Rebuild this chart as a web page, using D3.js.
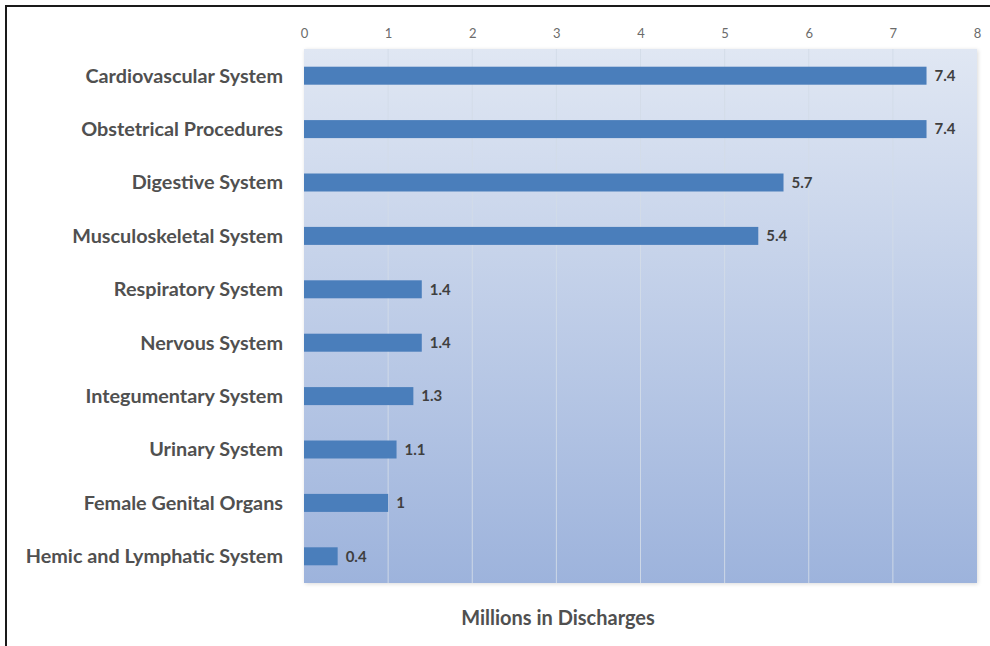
<!DOCTYPE html>
<html>
<head>
<meta charset="utf-8">
<script src="https://cdn.jsdelivr.net/npm/d3@7"></script>
<style>
  html, body { margin: 0; padding: 0; background: #ffffff; }
  svg { display: block; }
</style>
</head>
<body>
<svg id="chart" width="990" height="646"></svg>
<script>
const categories = [
  "Cardiovascular System",
  "Obstetrical Procedures",
  "Digestive System",
  "Musculoskeletal System",
  "Respiratory System",
  "Nervous System",
  "Integumentary System",
  "Urinary System",
  "Female Genital Organs",
  "Hemic and Lymphatic System"
];
const values = [7.4, 7.4, 5.7, 5.4, 1.4, 1.4, 1.3, 1.1, 1, 0.4];
const valueLabels = ["7.4", "7.4", "5.7", "5.4", "1.4", "1.4", "1.3", "1.1", "1", "0.4"];
const tickValues = [0, 1, 2, 3, 4, 5, 6, 7, 8];
const axisTitle = "Millions in Discharges";

const svg = d3.select("#chart");
const plot = { left: 304, right: 977, top: 49, bottom: 583 };

const x = d3.scaleLinear().domain([0, 8]).range([plot.left, plot.right]);
const y = d3.scaleBand().domain(categories).range([plot.top, plot.bottom]).paddingInner(0.663).paddingOuter(0.3315);

// outer frame
svg.append("rect")
  .attr("x", 6).attr("y", 6).attr("width", 1000).attr("height", 700)
  .attr("fill", "none").attr("stroke", "#1a1a1a").attr("stroke-width", 2);

const defs = svg.append("defs");
const grad = defs.append("linearGradient")
  .attr("id", "bg").attr("x1", 0).attr("y1", 0).attr("x2", 0).attr("y2", 1);
grad.append("stop").attr("offset", "0%").attr("stop-color", "#e0e7f3");
grad.append("stop").attr("offset", "100%").attr("stop-color", "#9db3dc");

const shadow = defs.append("filter").attr("id", "sh").attr("x", "-5%").attr("y", "-5%").attr("width", "110%").attr("height", "110%");
shadow.append("feGaussianBlur").attr("in", "SourceAlpha").attr("stdDeviation", 2);
shadow.append("feOffset").attr("dx", 1).attr("dy", 1).attr("result", "b");
shadow.append("feComponentTransfer").append("feFuncA").attr("type", "linear").attr("slope", 0.15);
const m = shadow.append("feMerge");
m.append("feMergeNode");
m.append("feMergeNode").attr("in", "SourceGraphic");

// plot background
svg.append("rect")
  .attr("x", plot.left).attr("y", plot.top)
  .attr("width", plot.right - plot.left).attr("height", plot.bottom - plot.top)
  .attr("fill", "url(#bg)").attr("filter", "url(#sh)");

// gridlines
svg.append("g").selectAll("line")
  .data(tickValues.filter(d => d > 0 && d < 8))
  .join("line")
  .attr("x1", d => x(d)).attr("x2", d => x(d))
  .attr("y1", plot.top).attr("y2", plot.bottom)
  .attr("stroke", "#d3dbe8").attr("stroke-opacity", 0.9).attr("stroke-width", 1);

// top axis
const axis = d3.axisTop(x).tickValues(tickValues).tickFormat(d3.format("d")).tickSize(0).tickPadding(0);
const ag = svg.append("g").attr("transform", `translate(0, 38)`).call(axis);
ag.select(".domain").remove();
ag.selectAll("text")
  .attr("font-family", "Lato, 'Open Sans', sans-serif")
  .attr("font-size", 13)
  .attr("fill", "#6b6b6b");

// bars
svg.append("g").selectAll("rect")
  .data(values)
  .join("rect")
  .attr("x", x(0))
  .attr("y", (d, i) => y(categories[i]))
  .attr("width", d => x(d) - x(0))
  .attr("height", y.bandwidth())
  .attr("fill", "#4a7ebb");

// value labels
svg.append("g").selectAll("text")
  .data(values)
  .join("text")
  .attr("x", d => x(d) + 8)
  .attr("y", (d, i) => y(categories[i]) + y.bandwidth() / 2)
  .attr("dy", "0.35em")
  .attr("font-family", "Lato, 'Open Sans', sans-serif")
  .attr("font-weight", "bold")
  .attr("font-size", 15)
  .attr("fill", "#3f3f3f")
  .text((d, i) => valueLabels[i]);

// category labels
svg.append("g").selectAll("text")
  .data(categories)
  .join("text")
  .attr("x", 283)
  .attr("y", d => y(d) + y.bandwidth() / 2)
  .attr("dy", "0.35em")
  .attr("text-anchor", "end")
  .attr("font-family", "Lato, 'Open Sans', sans-serif")
  .attr("font-weight", "bold")
  .attr("font-size", 19.8)
  .attr("fill", "#505050")
  .text(d => d);

// axis title
svg.append("text")
  .attr("x", 558).attr("y", 625)
  .attr("text-anchor", "middle")
  .attr("font-family", "Lato, 'Open Sans', sans-serif")
  .attr("font-weight", "bold")
  .attr("font-size", 20)
  .attr("fill", "#505050")
  .text(axisTitle);
</script>
</body>
</html>
